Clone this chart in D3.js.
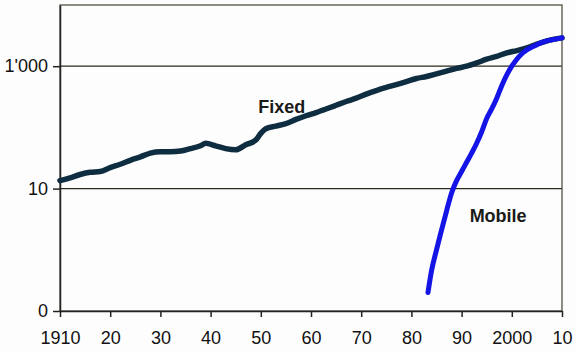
<!DOCTYPE html>
<html><head><meta charset="utf-8">
<script src="https://cdn.jsdelivr.net/npm/d3@7/dist/d3.min.js"></script>
<style>body{margin:0;background:#fff}svg{display:block}</style>
</head><body>
<script>
const fixedYears = [1910,1912,1914,1916,1918,1920,1922,1924,1926,1928,1930,1932,1934,1936,1938,1939,1941,1943,1945,1947,1949,1950,1951,1953,1955,1957,1959,1961,1963,1965,1967,1969,1971,1973,1975,1977,1979,1981,1983,1985,1987,1989,1991,1993,1995,1997,1999,2001,2003,2005,2007,2010];
const fixedValues = [13.5,15,17,18.5,19,22,25,29,33,38,40,40,41,45,50,55,50,45,43,52,62,80,95,105,115,135,155,175,200,230,265,300,350,400,450,500,560,630,680,750,830,920,1000,1130,1300,1450,1650,1800,2000,2300,2600,2900];
const mobileYears = [1983.3,1984,1985,1986,1987,1988,1989,1990,1991,1992,1993,1994,1995,1996,1997,1998,1999,2000,2001,2002,2003,2004,2005,2006,2007,2008,2009,2010];
const mobileValues = [0.2,0.45,1.0,2.1,4.3,8.5,13.5,19,27,38,55,85,140,200,300,480,720,1000,1300,1600,1850,2050,2250,2450,2600,2700,2800,2900];
const xTicks = [1910,1920,1930,1940,1950,1960,1970,1980,1990,2000,2010];
const xTickLabels = ["1910","20","30","40","50","60","70","80","90","2000","10"];
const yTicks = [0.1,10,1000];
const yTickLabels = ["0","10","1'000"];

const W=576,H=351, L=60,R=562,T=5,B=311;
const svg=d3.select("body").append("svg").attr("width",W).attr("height",H);
svg.append("rect").attr("width",W).attr("height",H).attr("fill","#fdfdfd");
const x=d3.scaleLinear().domain([1910,2010]).range([L,R]);
const y=d3.scaleLog().domain([0.1,10000]).range([B,T]);

// gridlines
svg.append("g").selectAll("line").data([10,1000]).join("line")
  .attr("x1",L).attr("x2",R).attr("y1",d=>y(d)).attr("y2",d=>y(d))
  .attr("stroke","#2a2a1a").attr("stroke-width",1.2);

// frame
svg.append("rect").attr("x",L).attr("y",T).attr("width",R-L).attr("height",B-T)
  .attr("fill","none").attr("stroke","#444433").attr("stroke-width",1.2);

const font="'Liberation Sans', Arial, sans-serif";
const xa=svg.append("g").attr("transform",`translate(0,${B})`)
  .call(d3.axisBottom(x).tickValues(xTicks).tickSize(6).tickSizeOuter(0).tickPadding(14)
    .tickFormat((d,i)=>xTickLabels[i]));
xa.select(".domain").attr("stroke","#222").attr("stroke-width",1.5);
xa.selectAll(".tick line").attr("stroke","#222").attr("stroke-width",1.5);
xa.selectAll("text").attr("font-family",font).attr("font-size",18).attr("fill","#111");

const ya=svg.append("g").attr("transform",`translate(${L},0)`)
  .call(d3.axisLeft(y).tickValues(yTicks).tickSize(7).tickSizeOuter(0).tickPadding(5)
    .tickFormat((d,i)=>yTickLabels[i]));
ya.select(".domain").attr("stroke","#222").attr("stroke-width",1.5);
ya.selectAll(".tick line").attr("stroke","#222").attr("stroke-width",1.5);
ya.selectAll("text").attr("font-family",font).attr("font-size",18).attr("fill","#111");

const line=d3.line().x(d=>x(d[0])).y(d=>y(d[1])).curve(d3.curveMonotoneX);
svg.append("path").datum(fixedYears.map((d,i)=>[d,fixedValues[i]]))
  .attr("d",line).attr("fill","none").attr("stroke","#0e2d40").attr("stroke-width",5.5)
  .attr("stroke-linejoin","round").attr("stroke-linecap","round");
svg.append("path").datum(mobileYears.map((d,i)=>[d,mobileValues[i]]))
  .attr("d",line).attr("fill","none").attr("stroke","#1414e6").attr("stroke-width",5)
  .attr("stroke-linejoin","round").attr("stroke-linecap","round");

svg.append("text").attr("x",x(1949.5)).attr("y",y(175)).text("Fixed")
  .attr("font-family",font).attr("font-weight","bold").attr("font-size",18).attr("fill","#1a1a1a");
svg.append("text").attr("x",x(1991.6)).attr("y",y(2.8)).text("Mobile")
  .attr("font-family",font).attr("font-weight","bold").attr("font-size",18).attr("fill","#1a1a1a");
</script>
</body></html>
